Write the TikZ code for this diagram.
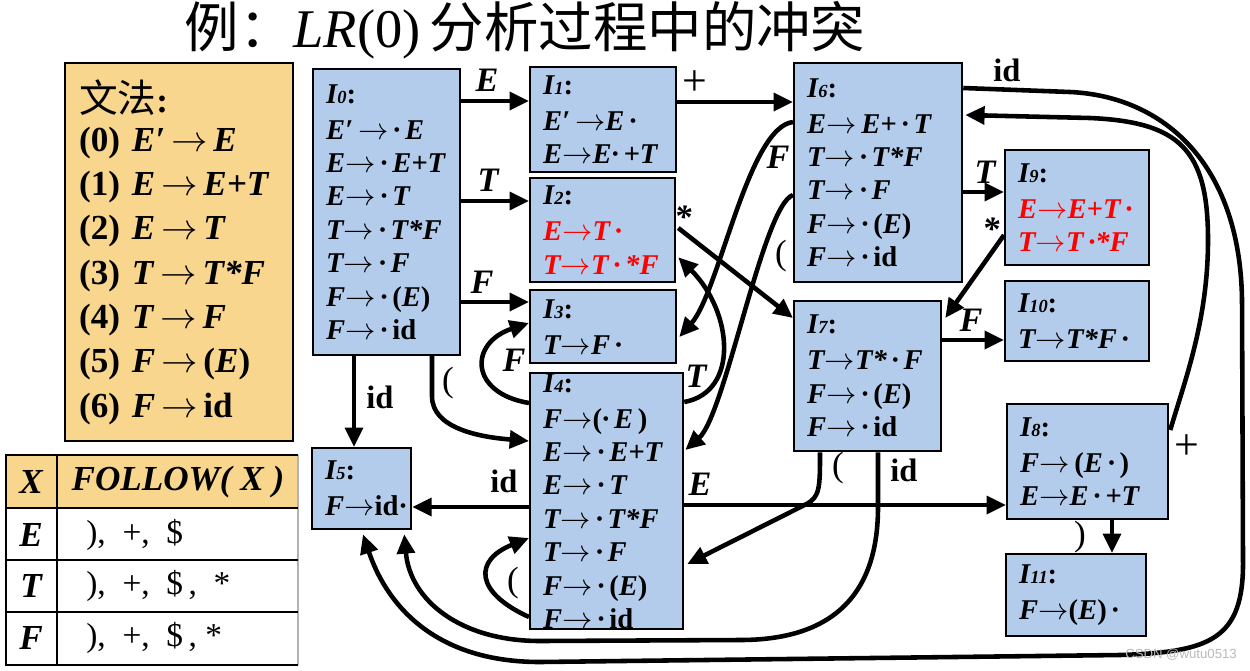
\documentclass[tikz,border=0pt]{standalone}
\usepackage{fontspec}
\setmainfont{Liberation Serif}
\newfontfamily\cjk{Noto Sans CJK SC}
\newfontfamily\wmfont{Liberation Sans}
\usetikzlibrary{arrows.meta,calc}
\definecolor{boxblue}{RGB}{180,204,236}
\definecolor{gramfill}{RGB}{248,214,142}
\newcommand{\ar}{\ensuremath{\rightarrow}}
\newcommand{\dd}{\,·\,}
\newcommand{\St}[1]{I\smash{\fontsize{10.5}{11}\selectfont #1}\textup{:}\\[1.5pt]}
\begin{document}
\begin{tikzpicture}[x=0.02cm,y=-0.02cm,
  state/.style={draw=black,line width=1.3pt,fill=boxblue,anchor=north west,
    inner xsep=0.26cm,inner ysep=0pt,align=left,
    font=\fontsize{16.3}{19}\selectfont\bfseries\itshape},
  edge/.style={line width=2.6pt,-{Triangle[length=11pt,width=10pt]}},
  lbl/.style={inner sep=0pt,font=\fontsize{19.5}{22}\selectfont\bfseries\itshape},
  lbid/.style={inner sep=0pt,font=\fontsize{18.5}{22}\selectfont\bfseries},
  lblr/.style={inner sep=0pt,font=\fontsize{20}{22}\selectfont},
  lplus/.style={inner sep=0pt,font=\fontsize{25}{26}\selectfont},
  tcell/.style={inner sep=0pt,font=\fontsize{20}{22}\selectfont\bfseries\itshape},
  tval/.style={inner sep=0pt,anchor=west,font=\fontsize{19}{22}\selectfont}
]
\useasboundingbox (0,0) rectangle (1250,670);

% title
\node[inner sep=0pt,font=\fontsize{31}{36}\selectfont] (title) at (525,30)
  {{\cjk 例：}\textit{LR}(0)\,{\cjk 分析过程中的冲突}};

% grammar box
\node[draw=black,line width=1.3pt,fill=gramfill,anchor=north west,
  minimum height=7.56cm,text width=4.0cm,inner xsep=0.28cm,inner ysep=0pt,align=left,
  font=\fontsize{20}{25.2}\selectfont\bfseries] (gram) at (64,62)
  {{\cjk\mdseries\fontsize{22}{25}\selectfont 文法}\textbf{:}\\[-3pt]
   (0) \textit{E′}\,\ar\,\textit{E}\\
   (1) \textit{E}\,\ar\,\textit{E+T}\\
   (2) \textit{E}\,\ar\,\textit{T}\\
   (3) \textit{T}\,\ar\,\textit{T*F}\\
   (4) \textit{T}\,\ar\,\textit{F}\\
   (5) \textit{F}\,\ar\,(\textit{E})\\
   (6) \textit{F}\,\ar\,id};

% FOLLOW table
\fill[gramfill] (6,455) rectangle (298,508);
\draw[gray!60,line width=0.8pt] (298,455) -- (298,665);
\draw[black,line width=1.2pt] (298,455) -- (6,455) -- (6,665) -- (298,665);
\draw[black,line width=1.2pt] (6,508) -- (298,508);
\draw[black,line width=1pt] (6,560) -- (298,560) (6,612) -- (298,612);
\draw[black,line width=1.2pt] (57,455) -- (57,665);
\node[tcell] (hX) at (31,482) {X};
\node[tcell] (hF) at (178,482) {FOLLOW(~X~)};
\node[tcell] (rE) at (31,535) {E};
\node[tcell] (rT) at (31,586) {T};
\node[tcell] (rF) at (31,638) {F};
\node[tval] (vE) at (86,535) {),~~+,~~\$};
\node[tval] (vT) at (86,586) {),~~+,~~\$\,,~~*};
\node[tval] (vF) at (86,638) {),~~+,~~\$\,,~*};

% states
\node[state,text width=2.42cm,minimum height=5.72cm] (I0) at (312,68)
 {\St{0}E′\,\ar\dd E\\E\ar\dd E+T\\E\ar\dd T\\T\ar\dd T*F\\T\ar\dd F\\F\ar\dd\textup{(}E\textup{)}\\F\ar\dd\textup{id}};
\node[state,text width=2.40cm,minimum height=2.10cm] (I1) at (529,66)
 {\St{1}E′\,\ar E\,·\\E\ar E·\,+T};
\node[state,text width=2.38cm,minimum height=2.08cm] (I2) at (529,177)
 {\St{2}\textcolor{red}{E\ar T\,·}\\\textcolor{red}{T\ar T\dd*F}};
\node[state,text width=2.40cm,minimum height=1.46cm] (I3) at (529,289)
 {\St{3}T\ar F\,·};
\node[state,text width=2.54cm,minimum height=5.12cm] (I4) at (529,372)
 {\St{4}F\ar\textup{(}·\,E\,\textup{)}\\E\ar\dd E+T\\E\ar\dd T\\T\ar\dd T*F\\T\ar\dd F\\F\ar\dd\textup{(}E\textup{)}\\F\ar\dd\textup{id}};
\node[state,text width=1.46cm,minimum height=1.62cm] (I5) at (311,447)
 {\St{5}F\ar\textup{id·}};
\node[state,text width=2.84cm,minimum height=4.38cm] (I6) at (793,62)
 {\St{6}E\ar\,E+\dd T\\T\ar\dd T*F\\T\ar\dd F\\F\ar\dd\textup{(}E\textup{)}\\F\ar\dd\textup{id}};
\node[state,text width=2.42cm,minimum height=3.00cm] (I7) at (793,300)
 {\St{7}T\ar T*\dd F\\F\ar\dd\textup{(}E\textup{)}\\F\ar\dd\textup{id}};
\node[state,text width=2.70cm,minimum height=2.30cm] (I8) at (1006,403)
 {\St{8}F\ar\,\textup{(}E\dd\textup{)}\\E\ar E\dd+T};
\node[state,text width=2.36cm,minimum height=2.30cm] (I9) at (1004,149)
 {\St{9}\textcolor{red}{E\ar E+T\,·}\\\textcolor{red}{T\ar T\,·*F}};
\node[state,text width=2.36cm,minimum height=1.60cm] (I10) at (1004,280)
 {\St{10}T\ar T*F\,·};
\node[state,text width=2.28cm,minimum height=1.64cm] (I11) at (1005,553)
 {\St{11}F\ar\textup{(}E\textup{)}\,·};

% edges
\draw[edge] ($(I0.north east)+(0,33)$) -- ($(I1.north west)+(0,35)$);
\draw[edge] ($(I0.north east)+(0,133)$) -- ($(I2.north west)+(0,24)$);
\draw[edge] ($(I0.north east)+(0,234)$) -- ($(I3.north west)+(0,13)$);
\draw[edge] ($(I0.south west)+(42,0)$) -- ($(I5.north west)+(43,0)$);
\draw[edge] ($(I0.south west)+(120,0)$) -- ++(0,40) .. controls +(0,32) and +(-50,-4) .. ($(I4.north west)+(0,69)$);
\draw[edge] ($(I4.north west)+(0,31)$) .. controls +(-60,-10) and +(-60,20) .. ($(I3.north west)+(0,34)$);
\draw[edge] ($(I4.north west)+(0,245)$) .. controls +(-55,-25) and +(-55,22) .. ($(I4.north west)+(0,166)$);
\draw[edge] ($(I4.north west)+(0,135)$) -- ($(I5.north east)+(0,60)$);
\draw[edge] ($(I4.north east)+(0,133)$) -- ($(I8.north west)+(0,102)$);
\draw[edge] ($(I4.north east)+(0,30)$) .. controls +(55,-10) and +(55,55) .. ($(I2.south east)+(2,-26)$);
\draw[edge] ($(I1.north east)+(0,36)$) -- ($(I6.north west)+(0,40)$);
\draw[edge] ($(I2.north east)+(2,51)$) -- ($(I7.north west)+(0,18)$);
\draw[edge] ($(I6.north west)+(0,60)$) .. controls +(-45,5) and +(40,-45) .. ($(I3.north east)+(2,48)$);
\draw[edge] ($(I6.north west)+(0,133)$) .. controls +(-30,10) and +(40,-35) .. ($(I4.north east)+(1,78)$);
\draw[edge] ($(I6.north east)+(0,130)$) -- ($(I9.north west)+(0,43)$);
\draw[edge] ($(I9.north west)+(0,86)$) -- ($(I7.north east)+(3,18)$);
\draw[edge] ($(I7.north east)+(0,40)$) -- ($(I10.north west)+(0,60)$);
\draw[edge] ($(I7.south west)+(27,0)$) .. controls +(0,35) and +(14,-7) .. ++(-14,52) -- ($(I4.north east)+(3,192)$);
\draw[edge] ($(I7.south west)+(85,0)$) -- ++(0,55) .. controls +(0,90) and +(90,0) .. (740,640) -- (540,641) .. controls (460,641) and (410,600) .. ($(I5.south east)+(-8,4)$);
\draw[edge] ($(I6.north east)+(0,26)$) -- (1070,92) .. controls (1160,96) and (1240,160) .. (1242,300) -- (1243,560) .. controls (1244,640) and (1210,652) .. (1120,655) -- (540,662) .. controls (430,662) and (385,600) .. ($(I5.south west)+(52,4)$);
\draw[edge] ($(I8.north east)+(1,27)$) .. controls (1185,380) and (1208,320) .. (1208,240) .. controls (1208,150) and (1180,122) .. (1090,118) -- ($(I6.north east)+(2,53)$);
\draw[edge] ($(I8.south west)+(106,0)$) -- ($(I11.north west)+(107,0)$);

% edge labels
\node[lbl] (lE1) at (487,80) {E};
\node[lbl] (lT0) at (488,180) {T};
\node[lbl] (lF0) at (482,282) {F};
\node[lbid] (lid0) at (380,397) {id};
\node[lblr] (lp0) at (448,383) {(};
\node[lplus] (lplus1) at (695,83) {+};
\node[lbl] (lst2) at (683,217) {*};
\node[lbl] (lF6) at (778,157) {F};
\node[lblr] (lp6) at (781,256) {(};
\node[lbl] (lT4) at (696,376) {T};
\node[lbl] (lF4) at (514,360) {F};
\node[lblr] (lp4) at (513,583) {(};
\node[lbid] (lid4) at (504,481) {id};
\node[lbl] (lE4) at (700,484) {E};
\node[lbl] (lT6) at (985,172) {T};
\node[lbl] (lst9) at (991,229) {*};
\node[lbl] (lF7) at (971,320) {F};
\node[lblr] (lp7) at (838,468) {(};
\node[lbid] (lid7) at (904,470) {id};
\node[lbid] (lid6) at (1007,70) {id};
\node[lplus] (lplus8) at (1187,447) {+};
\node[lblr] (lrp8) at (1080,537) {)};

% watermark
\node[inner sep=0pt,text=gray!55,font=\wmfont\fontsize{7.5}{9}\selectfont] (wm) at (1181,655) {CSDN @wutu0513};
\end{tikzpicture}
\end{document}
